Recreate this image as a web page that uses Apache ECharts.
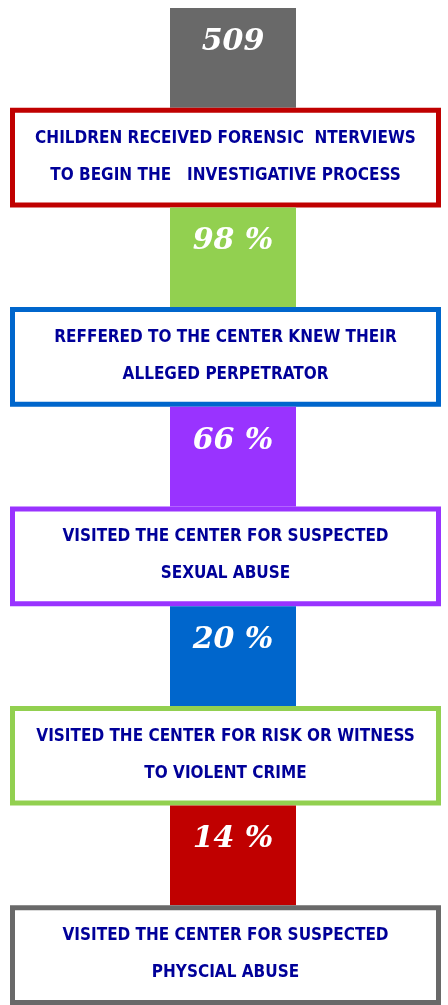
<!DOCTYPE html>
<html>
<head>
<meta charset="utf-8">
<script src="https://cdn.jsdelivr.net/npm/echarts@6/dist/echarts.min.js"></script>
<style>
  html, body { margin: 0; padding: 0; background: #fff; }
  #main { width: 448px; height: 1005px; }
</style>
</head>
<body>
<div id="main"></div>
<script>
// 数据
var statValues = [509, 98, 66, 20, 14];
var statUnits = ['', '%', '%', '%', '%'];
var descriptions = [
    'CHILDREN RECEIVED FORENSIC  NTERVIEWS\nTO BEGIN THE   INVESTIGATIVE PROCESS',
    'REFFERED TO THE CENTER KNEW THEIR\nALLEGED PERPETRATOR',
    'VISITED THE CENTER FOR SUSPECTED\nSEXUAL ABUSE',
    'VISITED THE CENTER FOR RISK OR WITNESS\nTO VIOLENT CRIME',
    'VISITED THE CENTER FOR SUSPECTED\nPHYSCIAL ABUSE'
];
var steps = ['1', '2', '3', '4', '5'];

// 颜色
var blockColors = ['#696969', '#92D050', '#9933FF', '#0066CC', '#C00000'];
var borderColors = ['#C00000', '#0066CC', '#9933FF', '#92D050', '#696969'];

var myChart = echarts.init(document.getElementById('main'));

function renderStep(params, api) {
    var i = api.value(0);
    var center = api.coord([0, i]);
    var band = api.size([0, 1])[1];
    var top = center[1] - band / 2;
    var blockH = band * 0.5;
    var bx0 = api.coord([170, i])[0];
    var bx1 = api.coord([296, i])[0];
    var rx0 = api.coord([10, i])[0];
    var rx1 = api.coord([441, i])[0];
    var boxTop = top + blockH;
    var boxH = band - blockH;
    var v = statValues[i];
    var label = statUnits[i] ? v + ' ' + statUnits[i] : String(v);
    return {
        type: 'group',
        children: [
            {
                type: 'rect',
                shape: { x: bx0, y: top, width: bx1 - bx0, height: blockH },
                style: { fill: blockColors[i] }
            },
            {
                type: 'text',
                style: {
                    text: label,
                    x: (bx0 + bx1) / 2,
                    y: top + 34,
                    align: 'center',
                    verticalAlign: 'middle',
                    fill: '#fff',
                    fontSize: 30,
                    fontStyle: 'italic',
                    fontWeight: 'bold',
                    fontFamily: 'DejaVu Serif'
                }
            },
            {
                type: 'rect',
                shape: { x: rx0 + 2.5, y: boxTop + 2.5, width: rx1 - rx0 - 5, height: boxH - 5 },
                style: { fill: '#fff', stroke: borderColors[i], lineWidth: 5 }
            },
            {
                type: 'text',
                style: {
                    text: descriptions[i],
                    x: (rx0 + rx1) / 2,
                    y: boxTop + 12,
                    align: 'center',
                    verticalAlign: 'top',
                    lineHeight: 37,
                    fill: '#000099',
                    fontSize: 17,
                    fontWeight: 'bold',
                    fontFamily: '"DejaVu Sans Condensed", sans-serif'
                }
            }
        ]
    };
}

var option = {
    animation: false,
    grid: { left: 0, right: 0, top: 8, bottom: 0 },
    xAxis: { type: 'value', min: 0, max: 448, show: false },
    yAxis: { type: 'category', data: steps, inverse: true, show: false },
    series: [{
        type: 'custom',
        renderItem: renderStep,
        clip: false,
        encode: { y: 0, x: 1 },
        data: statValues.map(function (v, i) { return [i, v]; })
    }]
};
myChart.setOption(option);
</script>
</body>
</html>
